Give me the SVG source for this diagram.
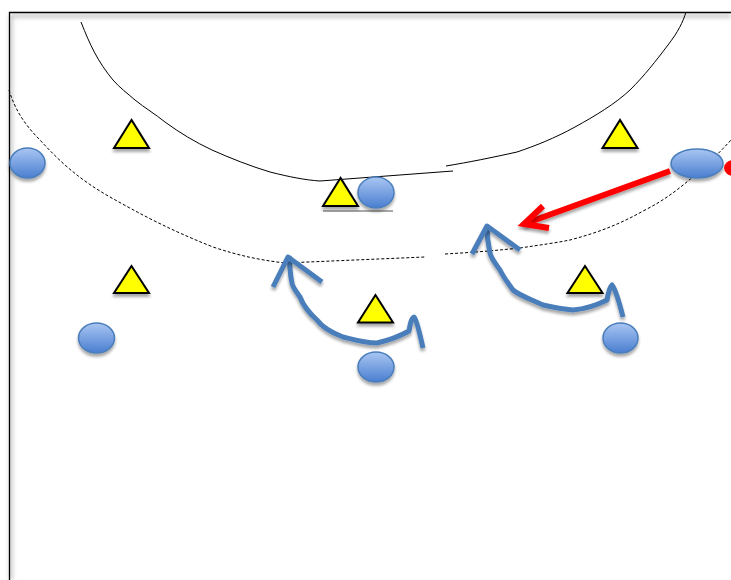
<svg xmlns="http://www.w3.org/2000/svg" width="731" height="580" viewBox="0 0 731 580">
<defs>
<linearGradient id="gBall" x1="0" y1="0" x2="0" y2="1">
<stop offset="0" stop-color="#a9c6f2"/>
<stop offset="1" stop-color="#4a7ed0"/>
</linearGradient>
<filter id="sh" x="-30%" y="-30%" width="160%" height="180%">
<feGaussianBlur in="SourceAlpha" stdDeviation="1.6"/>
<feOffset dx="0" dy="3" result="b"/>
<feComponentTransfer><feFuncA type="linear" slope="0.35"/></feComponentTransfer>
<feMerge><feMergeNode/><feMergeNode in="SourceGraphic"/></feMerge>
</filter>
<filter id="blur" x="-5%" y="-5%" width="110%" height="110%">
<feGaussianBlur stdDeviation="2"/>
</filter>
</defs>
<style>
.line{fill:none;stroke:#000;stroke-width:1}
.dash{fill:none;stroke:#000;stroke-width:1;stroke-dasharray:3 2}
.tri{fill:#ffff00;stroke:#000;stroke-width:2;stroke-linejoin:miter;filter:url(#sh)}
.ball{fill:url(#gBall);stroke:#4a7ebb;stroke-width:1.5;filter:url(#sh)}
.mv{fill:none;stroke:#4a7ebb;stroke-width:5;stroke-linecap:butt;stroke-linejoin:round;filter:url(#sh)}
.pass{fill:none;stroke:#ff0000;stroke-width:6;stroke-linecap:butt;stroke-linejoin:miter;filter:url(#sh)}
</style>
<rect width="731" height="580" fill="#fff"/>
<g id="court">
<path d="M11 580 V16 H731" fill="none" stroke="#bbb" stroke-width="3" filter="url(#blur)"/>
<path d="M9.5 580 V12.5 H731" fill="none" stroke="#000" stroke-width="1.3"/>
<path class="line" d="M81 22 C90 45 98 62 113 80 C120 88 127 93 135 100 C145 108 155 114 165 122 C180 133 195 142 212 150 C230 158 250 166 270 172 C290 177 305 180 320 181 L453 171"/>
<path class="line" d="M446 166 C470 162 490 158 517 152 C535 146 555 138 575 127 C595 116 615 104 630 90 C645 75 655 62 668 45 C678 32 683 22 686 12"/>
<path class="dash" d="M9 90 C15 110 25 125 40 140 C60 162 80 180 110 197 C140 214 170 230 213 247 C240 256 260 260 285 263 L425 257"/>
<path class="dash" d="M445 254 C480 252 500 250 520 248 C540 245 555 243 570 240 C600 232 620 224 645 210 C665 200 680 188 695 175 C710 162 720 152 731 140"/>
<line x1="323" y1="211" x2="393" y2="211" stroke="#555" stroke-width="1.2"/>
</g>
<g id="defenders">
<polygon id="d1" class="tri" points="131.5,120 114,148 149,148"/>
<polygon id="d2" class="tri" points="620,120 602.5,148 637.5,148"/>
<polygon id="d3" class="tri" points="340.5,178 323,206 358,206"/>
<polygon id="d4" class="tri" points="131.5,266 114,293 149,293"/>
<polygon id="d5" class="tri" points="375.5,295 358,322.5 393,322.5"/>
<polygon id="d6" class="tri" points="585,266 567.5,293 602.5,293"/>
</g>
<g id="attackers">
<ellipse id="a1" class="ball" cx="27.5" cy="163" rx="17.5" ry="15"/>
<ellipse id="a2" class="ball" cx="376" cy="192.5" rx="18" ry="15.5"/>
<ellipse id="a3" class="ball" cx="697" cy="163.5" rx="26" ry="14.5"/>
<ellipse id="a4" class="ball" cx="96.5" cy="338" rx="18" ry="15"/>
<ellipse id="a5" class="ball" cx="376" cy="367" rx="18" ry="15"/>
<ellipse id="a6" class="ball" cx="620.5" cy="338" rx="17.5" ry="15"/>
<ellipse id="a7" cx="734" cy="168" rx="10" ry="8" fill="#ff0000"/>
</g>
<g id="connectors">
<path class="pass" d="M670 171 L524 224"/>
<path class="pass" d="M543 206 L524 224 L549 228"/>
<path class="mv" d="M423 348 C420 335 417 320 414 317 C411 318 410 326 409 331 C400 336 390 340 377 343 C365 343 355 340 343 337 C330 332 322 327 317 320 C308 312 303 305 300 297 C295 290 292 286 292 283 C290 275 290 265 289 256"/>
<path class="mv" d="M273 287 L288 257 L322 282"/>
<path class="mv" d="M623 317 C620 305 616 290 612 285 C609 288 608 294 607 300 C597 305 585 309 573 310 C562 309 552 307 543 305 C533 300 520 296 513 290 C507 282 503 276 500 270 C495 263 491 258 490 253 C488 244 487 235 487 226"/>
<path class="mv" d="M472 254 L487 226 L520 250"/>
</g>
</svg>
